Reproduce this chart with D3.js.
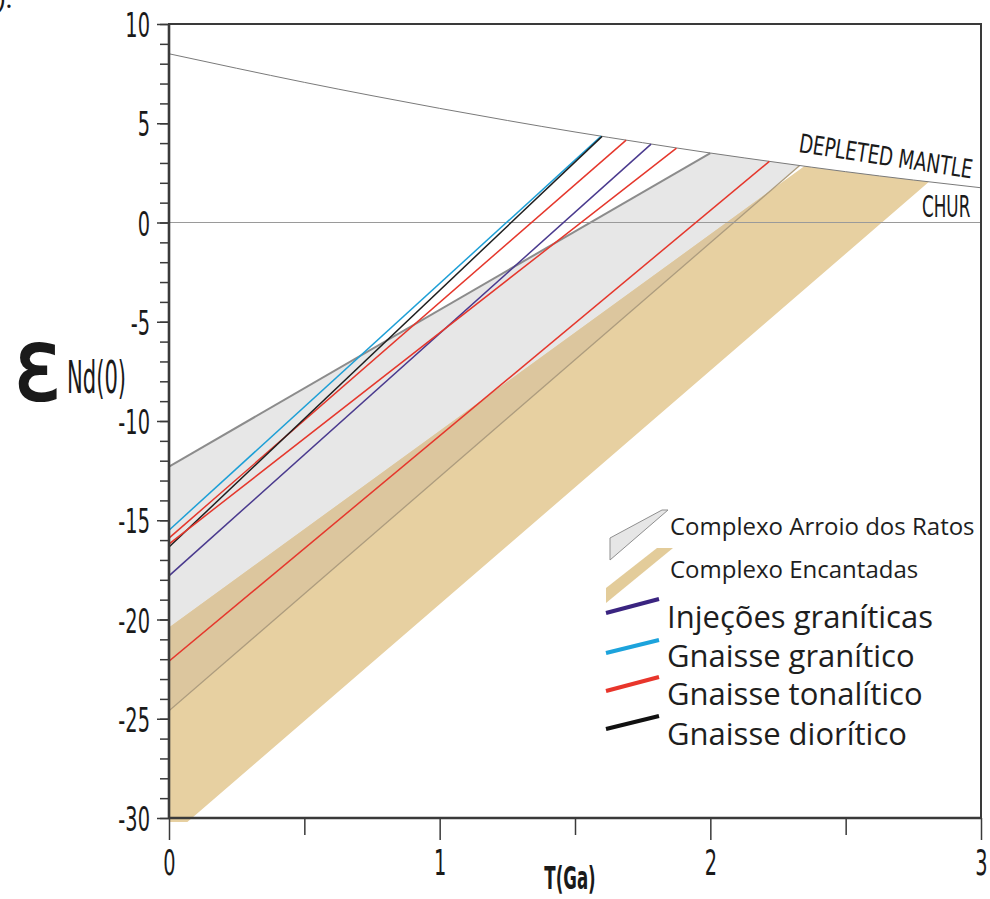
<!DOCTYPE html>
<html><head><meta charset="utf-8">
<script src="https://cdn.jsdelivr.net/npm/d3@7"></script>
<style>
  body { margin: 0; background: #fff; }
  svg { display: block; }
</style>
</head><body>
<svg id="chart" width="990" height="899"></svg>
<script>
// Depleted mantle evolution curve: T (Ga) vs εNd
const dmT   = [0, 0.25, 0.5, 0.75, 1, 1.25, 1.5, 1.75, 2, 2.25, 2.5, 2.75, 3];
const dmEps = [8.5, 7.77, 7.06, 6.39, 5.75, 5.14, 4.56, 4.02, 3.5, 3.02, 2.56, 2.14, 1.75];

// Field envelopes: upper and lower bounding evolution lines (εNd today -> model age on DM)
const bandNames      = ["Complexo Arroio dos Ratos", "Complexo Encantadas"];
const bandUpperEps0  = [-12.3, -20.4];
const bandUpperTDM   = [2.0, 2.347];
const bandUpperEpsDM = [3.5, 2.84];
const bandLowerEps0  = [-24.6, -31.0];
const bandLowerTDM   = [2.33, 2.808];
const bandLowerEpsDM = [2.87, 2.05];

// Individual samples: εNd(0), TDM (Ga) and εNd on the DM curve at TDM
const sampleRock  = ["Gnaisse granítico", "Gnaisse tonalítico", "Gnaisse diorítico",
                     "Injeções graníticas", "Gnaisse tonalítico", "Gnaisse tonalítico"];
const sampleEps0  = [-15.5, -15.9, -16.35, -17.8, -16.2, -22.1];
const sampleTDM   = [1.597, 1.689, 1.60, 1.781, 1.875, 2.218];
const sampleEpsDM = [4.35, 4.15, 4.34, 3.95, 3.75, 3.08];

// Legend entries for the sample lines
const lineLegend = ["Injeções graníticas", "Gnaisse granítico", "Gnaisse tonalítico", "Gnaisse diorítico"];

// Axis ticks
const xMajorTicks = [0, 1, 2, 3];
const xMinorTicks = [0.5, 1.5, 2.5];
const yMajorTicks = [-30, -25, -20, -15, -10, -5, 0, 5, 10];
const yMinorTicks = d3.range(-30, 11, 1);

const rockColor = {
  "Injeções graníticas": "#4a3a8e",
  "Gnaisse granítico": "#1d9fd6",
  "Gnaisse tonalítico": "#e5372c",
  "Gnaisse diorítico": "#1e1e1e"
};
const legendRockColor = {
  "Injeções graníticas": "#3a2480",
  "Gnaisse granítico": "#1ca3dc",
  "Gnaisse tonalítico": "#e8352b",
  "Gnaisse diorítico": "#111111"
};
const bandFill = ["#e7e7e7", "#e7d0a1"];
const overlapFill = "#dcc69e";

const svg = d3.select("#chart");
const x = d3.scaleLinear().domain([0, 3]).range([169, 981]);
const y = d3.scaleLinear().domain([-30, 10]).range([818, 24]);

const condensed = "'DejaVu Sans', sans-serif";
const legendFont = "'Open Sans', sans-serif";

// clip region: plot area (a hair below the x axis for the lowest field corner)
svg.append("defs").append("clipPath").attr("id", "plotClip")
  .append("rect").attr("x", x(0)).attr("y", y(10))
  .attr("width", x(3) - x(0)).attr("height", y(-30.2) - y(10));

const plot = svg.append("g").attr("clip-path", "url(#plotClip)");

// DM points between two model ages (for the band outlines along the curve)
function dmBetween(t0, t1) {
  return dmT.map((t, i) => [t, dmEps[i]]).filter(p => p[0] > t0 && p[0] < t1);
}
function bandPoints(i) {
  return [[0, bandUpperEps0[i]], [bandUpperTDM[i], bandUpperEpsDM[i]]]
    .concat(dmBetween(bandUpperTDM[i], bandLowerTDM[i]))
    .concat([[bandLowerTDM[i], bandLowerEpsDM[i]], [0, bandLowerEps0[i]]]);
}
const poly = d3.line().x(d => x(d[0])).y(d => y(d[1]));

const defs = svg.select("defs");
defs.append("clipPath").attr("id", "band0Clip")
  .append("path").attr("d", poly(bandPoints(0)) + "Z");

// field fills
bandNames.forEach((name, i) => {
  plot.append("path").attr("d", poly(bandPoints(i)) + "Z")
    .attr("fill", bandFill[i]).attr("stroke", "none");
});
// overlap of the two fields
plot.append("g").attr("clip-path", "url(#band0Clip)")
  .append("path").attr("d", poly(bandPoints(1)) + "Z")
  .attr("fill", overlapFill);

// field outlines
plot.append("path")
  .attr("d", poly([[0, bandLowerEps0[0]], [bandLowerTDM[0], bandLowerEpsDM[0]]]))
  .attr("stroke", "#ad9c7e").attr("stroke-width", 1.3).attr("fill", "none");
plot.append("path")
  .attr("d", poly([[0, bandUpperEps0[0]], [bandUpperTDM[0], bandUpperEpsDM[0]]]))
  .attr("stroke", "#8c8c8c").attr("stroke-width", 2).attr("fill", "none");

// CHUR reference
plot.append("line")
  .attr("x1", x(0)).attr("x2", x(3)).attr("y1", y(0)).attr("y2", y(0))
  .attr("stroke", "#9a9a9a").attr("stroke-width", 1);

// Depleted mantle curve
plot.append("path")
  .datum(dmT.map((t, i) => [t, dmEps[i]]))
  .attr("d", d3.line().x(d => x(d[0])).y(d => y(d[1])).curve(d3.curveMonotoneX))
  .attr("fill", "none").attr("stroke", "#7a7a7a").attr("stroke-width", 1);

// sample evolution lines
sampleRock.forEach((rock, i) => {
  plot.append("path")
    .attr("d", poly([[0, sampleEps0[i]], [sampleTDM[i], sampleEpsDM[i]]]))
    .attr("stroke", rockColor[rock]).attr("stroke-width", 1.5).attr("fill", "none");
});

// ---- axes ----
const axisColor = "#3a3a3a";
const plainNumber = d => String(d);
const yMinorAxis = svg.append("g").attr("transform", `translate(${x(0)},0)`)
  .call(d3.axisLeft(y).tickValues(yMinorTicks).tickSize(9).tickFormat(""));
const yMajorAxis = svg.append("g").attr("transform", `translate(${x(0)},0)`)
  .call(d3.axisLeft(y).tickValues(yMajorTicks).tickSize(12).tickFormat(plainNumber));
const xMinorAxis = svg.append("g").attr("transform", `translate(0,${y(-30)})`)
  .call(d3.axisBottom(x).tickValues(xMinorTicks).tickSize(17).tickFormat(""));
const xMajorAxis = svg.append("g").attr("transform", `translate(0,${y(-30)})`)
  .call(d3.axisBottom(x).tickValues(xMajorTicks).tickSize(22).tickFormat(plainNumber));

[yMinorAxis, yMajorAxis, xMinorAxis, xMajorAxis].forEach(g => {
  g.select(".domain").remove();
  g.selectAll(".tick line").attr("stroke", axisColor).attr("stroke-width", 1.5);
  g.attr("font-family", condensed).attr("font-size", 34);
  g.selectAll(".tick text").attr("fill", "#1a1a1a");
});
yMajorAxis.selectAll(".tick text")
  .attr("x", null).attr("dy", null)
  .attr("transform", "translate(-19,12.5) scale(0.57,1)");
xMajorAxis.selectAll(".tick text")
  .attr("y", null).attr("dy", null)
  .attr("transform", "translate(0,57) scale(0.57,1.05)");

// frame
svg.append("rect")
  .attr("x", x(0)).attr("y", y(10))
  .attr("width", x(3) - x(0)).attr("height", y(-30) - y(10))
  .attr("fill", "none").attr("stroke", axisColor).attr("stroke-width", 2);
svg.append("line").attr("x1", x(0)).attr("x2", x(0)).attr("y1", y(10)).attr("y2", y(-30))
  .attr("stroke", axisColor).attr("stroke-width", 2.6);
svg.append("line").attr("x1", x(0)).attr("x2", x(3)).attr("y1", y(-30)).attr("y2", y(-30))
  .attr("stroke", axisColor).attr("stroke-width", 2.6);

// axis titles
svg.append("text")
  .attr("transform", "translate(14,400) scale(0.88,1)")
  .attr("font-family", condensed).attr("font-size", 100)
  .attr("fill", "#1a1a1a").attr("stroke", "#1a1a1a").attr("stroke-width", 2.2)
  .text("ε");
svg.append("text")
  .attr("transform", "translate(67,393) scale(0.48,1)")
  .attr("font-family", condensed).attr("font-size", 44)
  .attr("fill", "#1a1a1a").text("Nd(0)");
svg.append("text")
  .attr("transform", "translate(570,889) scale(0.52,1)")
  .attr("text-anchor", "middle")
  .attr("font-family", condensed).attr("font-weight", "bold").attr("font-size", 32)
  .attr("fill", "#1a1a1a").text("T(Ga)");

// curve labels
svg.append("text")
  .attr("transform", "translate(798,152) rotate(8.7) scale(0.7,1)")
  .attr("font-family", condensed).attr("font-size", 26)
  .attr("fill", "#1a1a1a").text("DEPLETED MANTLE");
svg.append("text")
  .attr("transform", "translate(922,217) scale(0.56,1)")
  .attr("font-family", condensed).attr("font-size", 30)
  .attr("fill", "#1a1a1a").text("CHUR");

// partial caption at the top-left corner
svg.append("text").attr("x", -3).attr("y", 8)
  .attr("font-family", legendFont).attr("font-size", 28).attr("fill", "#1a1a1a").text(").");

// ---- legend ----
const legend = svg.append("g");
const swatchShapes = [
  [[610, 560], [610, 538], [662, 510], [668, 510]],
  [[606, 603], [606, 588], [657, 548], [673, 548]]
];
const bandLabelY = [535, 578];
bandNames.forEach((name, i) => {
  legend.append("path")
    .attr("d", d3.line()(swatchShapes[i]) + "Z")
    .attr("fill", i === 0 ? "#e6e6e6" : "#e3cc9a")
    .attr("stroke", i === 0 ? "#8f8f8f" : "none").attr("stroke-width", 1);
  legend.append("text").attr("x", 670).attr("y", bandLabelY[i])
    .attr("font-family", legendFont).attr("font-size", 24)
    .attr("fill", "#1e1e1e").text(name);
});
const lineLabelY = [628, 667, 705, 745];
const lineSwatchY = [[613, 599], [653, 640], [691, 677], [729, 716]];
lineLegend.forEach((rock, i) => {
  legend.append("line")
    .attr("x1", 606).attr("y1", lineSwatchY[i][0])
    .attr("x2", 659).attr("y2", lineSwatchY[i][1])
    .attr("stroke", legendRockColor[rock]).attr("stroke-width", 4);
  legend.append("text").attr("x", 667).attr("y", lineLabelY[i])
    .attr("font-family", legendFont).attr("font-size", 31)
    .attr("fill", "#1e1e1e").text(rock);
});
</script>
</body></html>
